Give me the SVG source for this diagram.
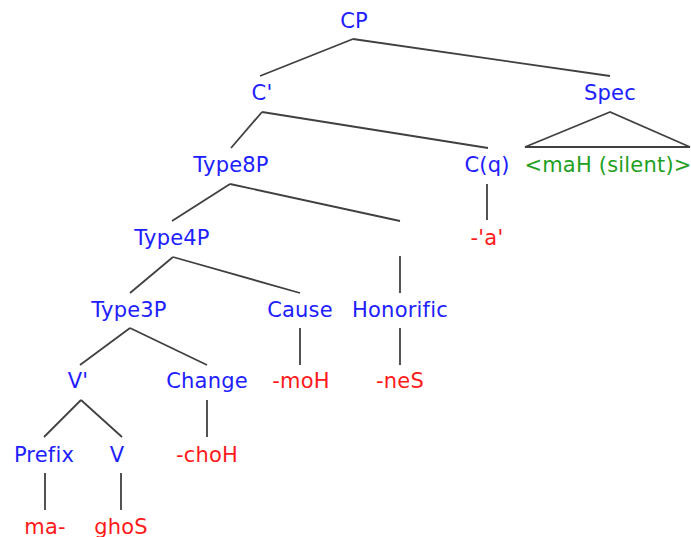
<svg xmlns="http://www.w3.org/2000/svg" width="691" height="537" viewBox="0 0 691 537">
  <style>
    text { font-family: "DejaVu Sans", "Liberation Sans", sans-serif; font-size: 21px; letter-spacing: 0.2px; text-anchor: middle; }
    .cat { fill: #2020ff; }
    .lex { fill: #ff1a1a; }
    .phr { fill: #1f9f1f; }
    .edge { stroke: #404040; stroke-width: 1.8; fill: none; }
  </style>
  <rect width="691" height="537" fill="#ffffff"/>

  <g id="connectors">
    <!-- CP -->
    <line class="edge" x1="353" y1="39" x2="260" y2="76"/>
    <line class="edge" x1="353" y1="39" x2="610" y2="76"/>
    <!-- C' -->
    <line class="edge" x1="262" y1="112" x2="231" y2="148"/>
    <line class="edge" x1="262" y1="112" x2="488" y2="148"/>
    <!-- Spec (roof) -->
    <polygon class="edge" points="610,112 525,147 690,147"/>
    <!-- C(q) -->
    <line class="edge" x1="487" y1="184" x2="487" y2="220"/>
    <!-- Type8P -->
    <line class="edge" x1="230" y1="184" x2="172" y2="221"/>
    <line class="edge" x1="230" y1="184" x2="400" y2="221"/>
    <line class="edge" x1="400" y1="256" x2="400" y2="293"/>
    <!-- Type4P -->
    <line class="edge" x1="173" y1="257" x2="130" y2="293"/>
    <line class="edge" x1="173" y1="257" x2="300" y2="293"/>
    <!-- Type3P -->
    <line class="edge" x1="130" y1="328" x2="80" y2="365"/>
    <line class="edge" x1="130" y1="328" x2="207" y2="365"/>
    <!-- Cause, Honorific -->
    <line class="edge" x1="300" y1="328" x2="300" y2="365"/>
    <line class="edge" x1="400" y1="328" x2="400" y2="365"/>
    <!-- V' -->
    <line class="edge" x1="81" y1="400" x2="44" y2="437"/>
    <line class="edge" x1="81" y1="400" x2="122" y2="437"/>
    <!-- Change -->
    <line class="edge" x1="207" y1="400" x2="207" y2="437"/>
    <!-- Prefix, V -->
    <line class="edge" x1="45" y1="473" x2="45" y2="510"/>
    <line class="edge" x1="121" y1="473" x2="121" y2="510"/>
  </g>

  <g id="n-cp"><text class="cat" x="354" y="28">CP</text></g>
  <g id="n-cbar"><text class="cat" x="262" y="100">C'</text></g>
  <g id="n-spec"><text class="cat" x="610" y="100">Spec</text></g>
  <g id="n-type8p"><text class="cat" x="231" y="172">Type8P</text></g>
  <g id="n-cq"><text class="cat" x="487" y="172">C(q)</text></g>
  <g id="n-mah"><text class="phr" x="608" y="172">&lt;maH (silent)&gt;</text></g>
  <g id="n-a"><text class="lex" x="487" y="245">-'a'</text></g>
  <g id="n-type4p"><text class="cat" x="172" y="245">Type4P</text></g>
  <g id="n-type3p"><text class="cat" x="129" y="317">Type3P</text></g>
  <g id="n-cause"><text class="cat" x="300" y="317">Cause</text></g>
  <g id="n-honorific"><text class="cat" x="400" y="317">Honorific</text></g>
  <g id="n-vbar"><text class="cat" x="78" y="388">V'</text></g>
  <g id="n-change"><text class="cat" x="207" y="388">Change</text></g>
  <g id="n-moh"><text class="lex" x="301" y="388">-moH</text></g>
  <g id="n-nes"><text class="lex" x="400" y="388">-neS</text></g>
  <g id="n-prefix"><text class="cat" x="44" y="462">Prefix</text></g>
  <g id="n-v"><text class="cat" x="117" y="462">V</text></g>
  <g id="n-choh"><text class="lex" x="207" y="462">-choH</text></g>
  <g id="n-ma"><text class="lex" x="45" y="534">ma-</text></g>
  <g id="n-ghos"><text class="lex" x="121" y="534">ghoS</text></g>
</svg>
